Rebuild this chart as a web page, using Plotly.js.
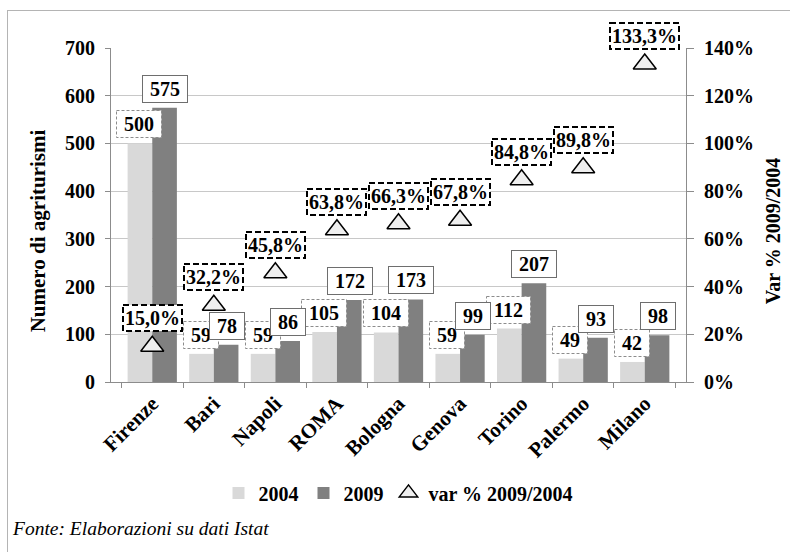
<!DOCTYPE html>
<html>
<head>
<meta charset="utf-8">
<script src="https://cdn.plot.ly/plotly-3.0.1.min.js"></script>
<style>
  html, body { margin: 0; padding: 0; background: #fff; overflow: hidden; }
  #wrap { position: relative; width: 790px; height: 552px; }
  #frame { position: absolute; left: 7px; top: 10px; width: 820px; height: 600px; border: 1px solid #b4b4b4; pointer-events: none; }
  #chart { position: absolute; left: 0; top: 0; width: 790px; height: 552px; }
</style>
</head>
<body>
<div id="wrap">
  <div id="chart"></div>
  <div id="frame"></div>
</div>
<script>
const cities = ["Firenze", "Bari", "Napoli", "ROMA", "Bologna", "Genova", "Torino", "Palermo", "Milano"];
const v2004 = [500, 59, 59, 105, 104, 59, 112, 49, 42];
const v2009 = [575, 78, 86, 172, 173, 99, 207, 93, 98];
const varPct = [15.0, 32.2, 45.8, 63.8, 66.3, 67.8, 84.8, 89.8, 133.3];
const leftTicks = [0, 100, 200, 300, 400, 500, 600, 700];
const rightTicks = [0, 20, 40, 60, 80, 100, 120, 140];

const FONT = '"Liberation Serif", "Times New Roman", serif';
const nb = "\u00a0";

const traces = [
  { type: "bar", name: "2004", x: cities, y: v2004, marker: { color: "#d9d9d9" }, yaxis: "y" },
  { type: "bar", name: "2009", x: cities, y: v2009, marker: { color: "#808080" }, yaxis: "y" },
  { type: "scatter", mode: "markers", name: "var % 2009/2004", x: cities, y: varPct, yaxis: "y2",
    marker: { symbol: "triangle-up", size: 20, color: "#efefef", line: { color: "#000", width: 1.5 } } }
];

const labelFont = { family: FONT, size: 20, color: "#000", weight: "bold" };
const annotations = [];
const n2004 = cities.length;
cities.forEach((c, i) => {
  annotations.push({ x: c, y: v2004[i], xref: "x", yref: "y", text: nb + v2004[i] + nb, showarrow: false,
    xshift: -12.8, yshift: 5, yanchor: "bottom", bgcolor: "#fff", bordercolor: "#8c8c8c", borderwidth: 1, borderpad: 2,
    font: labelFont });
});
cities.forEach((c, i) => {
  annotations.push({ x: c, y: v2009[i], xref: "x", yref: "y", text: nb + v2009[i] + nb, showarrow: false,
    xshift: 12.8, yshift: 5, yanchor: "bottom", bgcolor: "#fff", bordercolor: "#6e6e6e", borderwidth: 1, borderpad: 2,
    font: labelFont });
});
cities.forEach((c, i) => {
  annotations.push({ x: c, y: varPct[i], xref: "x", yref: "y2", text: varPct[i].toFixed(1).replace(".", ",") + "%", showarrow: false,
    yshift: 14, yanchor: "bottom", bgcolor: "#fff", bordercolor: "#000", borderwidth: 2, borderpad: 1,
    font: labelFont });
});
annotations.push({ xref: "paper", yref: "paper", x: -0.176, y: -0.438, xanchor: "left", yanchor: "middle",
  text: "Fonte: Elaborazioni su dati Istat", showarrow: false,
  font: { family: FONT, size: 19.5, color: "#000", style: "italic" } });

const axisFont = { family: FONT, size: 20, color: "#000", weight: "bold" };

const layout = {
  width: 790, height: 552,
  margin: { l: 111, r: 104, t: 48, b: 170 },
  paper_bgcolor: "rgba(0,0,0,0)", plot_bgcolor: "#fff",
  barmode: "group", bargap: 0.2, bargroupgap: 0,
  font: { family: FONT, color: "#000" },
  xaxis: { type: "category", tickangle: -45, tickfont: { family: FONT, size: 21, color: "#000", weight: "bold" },
    showline: true, linecolor: "#8c8c8c", linewidth: 1,
    ticks: "outside", tickson: "boundaries", ticklen: 5, tickcolor: "#8c8c8c", showgrid: false, fixedrange: true },
  yaxis: { range: [0, 700], tickvals: leftTicks, ticktext: leftTicks.map(String), tickfont: axisFont,
    showline: true, linecolor: "#8c8c8c", ticks: "outside", ticklen: 5, tickcolor: "#8c8c8c", ticklabelstandoff: 6,
    gridcolor: "#c8c8c8", zeroline: false,
    title: { text: "Numero di agriturismi", font: { family: FONT, size: 21, color: "#000", weight: "bold" }, standoff: 13 } },
  yaxis2: { overlaying: "y", side: "right", range: [0, 140], tickvals: rightTicks, ticktext: rightTicks.map(v => v + "%"),
    tickfont: axisFont, showline: true, linecolor: "#8c8c8c", ticks: "outside", ticklen: 7, tickcolor: "#8c8c8c", ticklabelstandoff: 6,
    showgrid: false, zeroline: false,
    title: { text: "Var % 2009/2004", font: { family: FONT, size: 20, color: "#000", weight: "bold" }, standoff: 12 } },
  legend: { orientation: "h", x: 0.5, xanchor: "center", y: -0.332, yanchor: "middle",
    font: { family: FONT, size: 20, color: "#000", weight: "bold" }, itemwidth: 30, traceorder: "normal" },
  annotations: annotations,
  showlegend: true
};

Plotly.newPlot("chart", traces, layout, { displayModeBar: false, staticPlot: true }).then(gd => {
  gd.querySelectorAll("g.annotation").forEach(g => {
    const idx = +g.getAttribute("data-index");
    const rect = g.querySelector("rect.bg");
    if (!rect) return;
    if (idx < n2004) rect.style.strokeDasharray = "3,2";
    else if (idx >= 2 * n2004 && idx < 3 * n2004) rect.style.strokeDasharray = "6,3";
  });
  // axis titles in the reference sit a little below the plot-area centre
  gd.querySelectorAll("g.g-ytitle, g.g-y2title").forEach(g => g.setAttribute("transform", "translate(0,16)"));
});
</script>
</body>
</html>
